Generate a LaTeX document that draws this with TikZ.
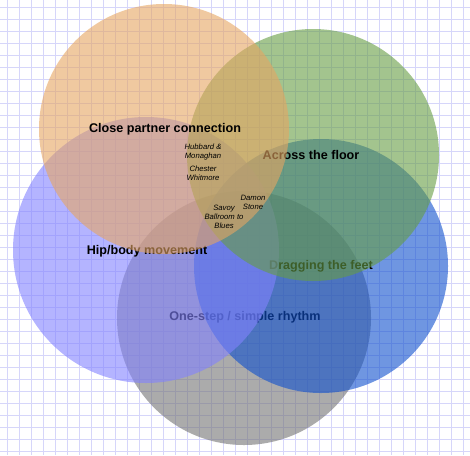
\documentclass[tikz,border=0pt]{standalone}
\usepackage{fontspec}
\setmainfont{Liberation Sans}
\usetikzlibrary{positioning}
\definecolor{Peach}{HTML}{E6A561}
\definecolor{Sage}{HTML}{669D44}
\definecolor{Lavender}{HTML}{8282FF}
\definecolor{Cobalt}{HTML}{0F50CD}
\definecolor{Slate}{HTML}{737373}
\definecolor{GridLine}{HTML}{D6D6FA}

\begin{document}
\begin{tikzpicture}[x=1pt,y=-1pt,
    venn/.style={circle,inner sep=0pt,minimum size=#1,fill opacity=0.6},
    setlabel/.style={font=\fontsize{12.6}{14}\selectfont\bfseries},
    memberlabel/.style={font=\fontsize{7.7}{9}\selectfont\itshape,align=center,inner sep=0pt}]
  \fill[white] (0,0) rectangle (470,455);
  \useasboundingbox (0,0) rectangle (470,455);
  \foreach \g in {7,19,...,463}{
    \draw[GridLine,line width=0.3pt] (\g,0) -- (\g,455);
  }
  \foreach \g in {7,19,...,451}{
    \draw[GridLine,line width=0.3pt] (0,\g) -- (470,\g);
  }
  % circles, each followed by its label
  \node[venn=254pt,fill=Slate] (rhythm) at (244,318) {};
  \node[setlabel] (rhythmlabel) at (245,317) {One-step / simple rhythm};
  \node[venn=254pt,fill=Cobalt] (feet) at (321,266) {};
  \node[setlabel] (feetlabel) at (321,266) {Dragging the feet};
  \node[venn=266pt,fill=Lavender] (hip) at (146,250) {};
  \node[setlabel] (hiplabel) at (147,251) {Hip/body movement};
  \node[venn=252pt,fill=Sage] (floor) at (313,155) {};
  \node[setlabel] (floorlabel) at (311,155) {Across the floor};
  \node[venn=250pt,fill=Peach] (partner) at (164,129) {};
  \node[setlabel] (partnerlabel) at (165,129) {Close partner connection};
  % dances in the overlaps
  \node[memberlabel] (hubbard) at (203,152) {Hubbard \&\\Monaghan};
  \node[memberlabel] (chester) at (203,173) {Chester\\Whitmore};
  \node[memberlabel] (damon) at (253,202) {Damon\\Stone};
  \node[memberlabel] (savoy) at (224,217) {Savoy\\Ballroom to\\Blues};
\end{tikzpicture}
\end{document}
